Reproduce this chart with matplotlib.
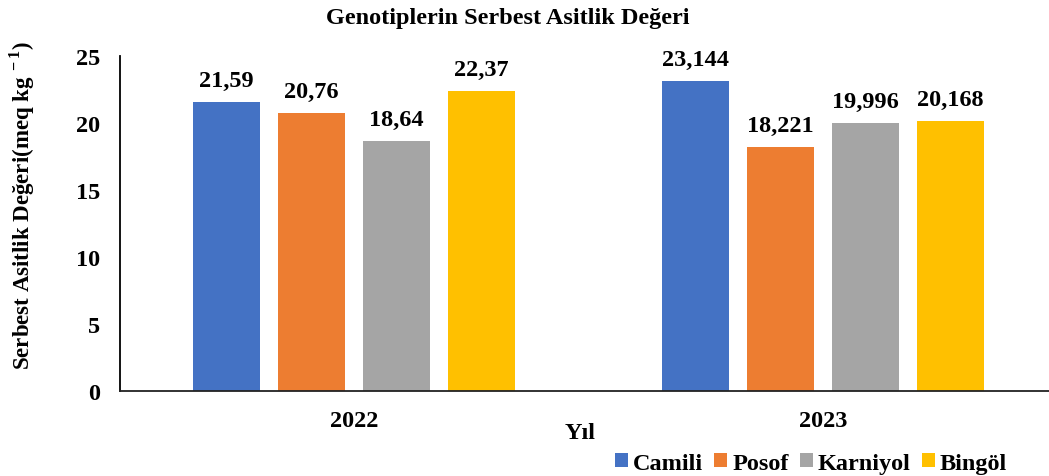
import numpy as np
import matplotlib
matplotlib.use("Agg")
import matplotlib.pyplot as plt

plt.rcParams['font.family'] = ['Liberation Serif', 'DejaVu Serif']
plt.rcParams['font.weight'] = 'bold'
plt.rcParams['mathtext.fontset'] = 'custom'
plt.rcParams['mathtext.rm'] = 'Liberation Serif:bold'
plt.rcParams['mathtext.bf'] = 'Liberation Serif:bold'

#%% data
years = ['2022', '2023']
genotypes = ['Camili', 'Posof', 'Karniyol', 'Bingöl']
camili = [21.59, 23.144]
posof = [20.76, 18.221]
karniyol = [18.64, 19.996]
bingol = [22.37, 20.168]
labels_2022 = ['21,59', '20,76', '18,64', '22,37']
labels_2023 = ['23,144', '18,221', '19,996', '20,168']
colors = ['#4472C4', '#ED7D31', '#A5A5A5', '#FFC000']

#%% plot
fig = plt.figure(figsize=(10.49, 4.77), dpi=100)
ax = fig.add_axes([0.1144, 0.1782, 0.8856, 0.7023])

series = [camili, posof, karniyol, bingol]
x = np.arange(len(years))
offsets = [-0.272, -0.0906, 0.0906, 0.272]
width = 0.143
fs = 17.5
for i, vals in enumerate(series):
    bars = ax.bar(x + offsets[i], vals, width, color=colors[i], label=genotypes[i])
    txt = [labels_2022[i], labels_2023[i]]
    for b, t in zip(bars, txt):
        ax.annotate(t, (b.get_x() + b.get_width() / 2, b.get_height()),
                    xytext=(0, 8), textcoords='offset points',
                    ha='center', va='bottom', fontsize=fs, fontweight='bold')

ax.set_xlim(-0.499, 1.482)
ax.set_ylim(0, 25)
ax.set_yticks([0, 5, 10, 15, 20, 25])
ax.set_xticks(x)
ax.set_xticklabels(years)
ax.tick_params(axis='y', length=0, pad=14, labelsize=fs)
ax.tick_params(axis='x', length=0, pad=14, labelsize=fs)
for s in ['top', 'right']:
    ax.spines[s].set_visible(False)
ax.spines['left'].set_linewidth(1.3)
ax.spines['bottom'].set_linewidth(1.3)
ax.spines['bottom'].set_color('#222222')

fig.text(0.484, 0.962, 'Genotiplerin Serbest Asitlik Değeri', ha='center', va='center',
         fontsize=fs, fontweight='bold')
fig.text(0.021, 0.57, r'Serbest Asitlik Değeri(meq kg$^{\,-1}$)', rotation=90,
         ha='center', va='center', fontsize=16.5, fontweight='bold')
fig.text(0.553, 0.092, 'Yıl', ha='center', va='center', fontsize=fs, fontweight='bold')

fig.legend(loc='center', bbox_to_anchor=(0.773, 0.027), ncol=4, frameon=False,
           fontsize=fs, handlelength=0.55, handleheight=0.55, handletextpad=0.2,
           columnspacing=0.45, borderpad=0)

fig.savefig('out.png', dpi=100)
